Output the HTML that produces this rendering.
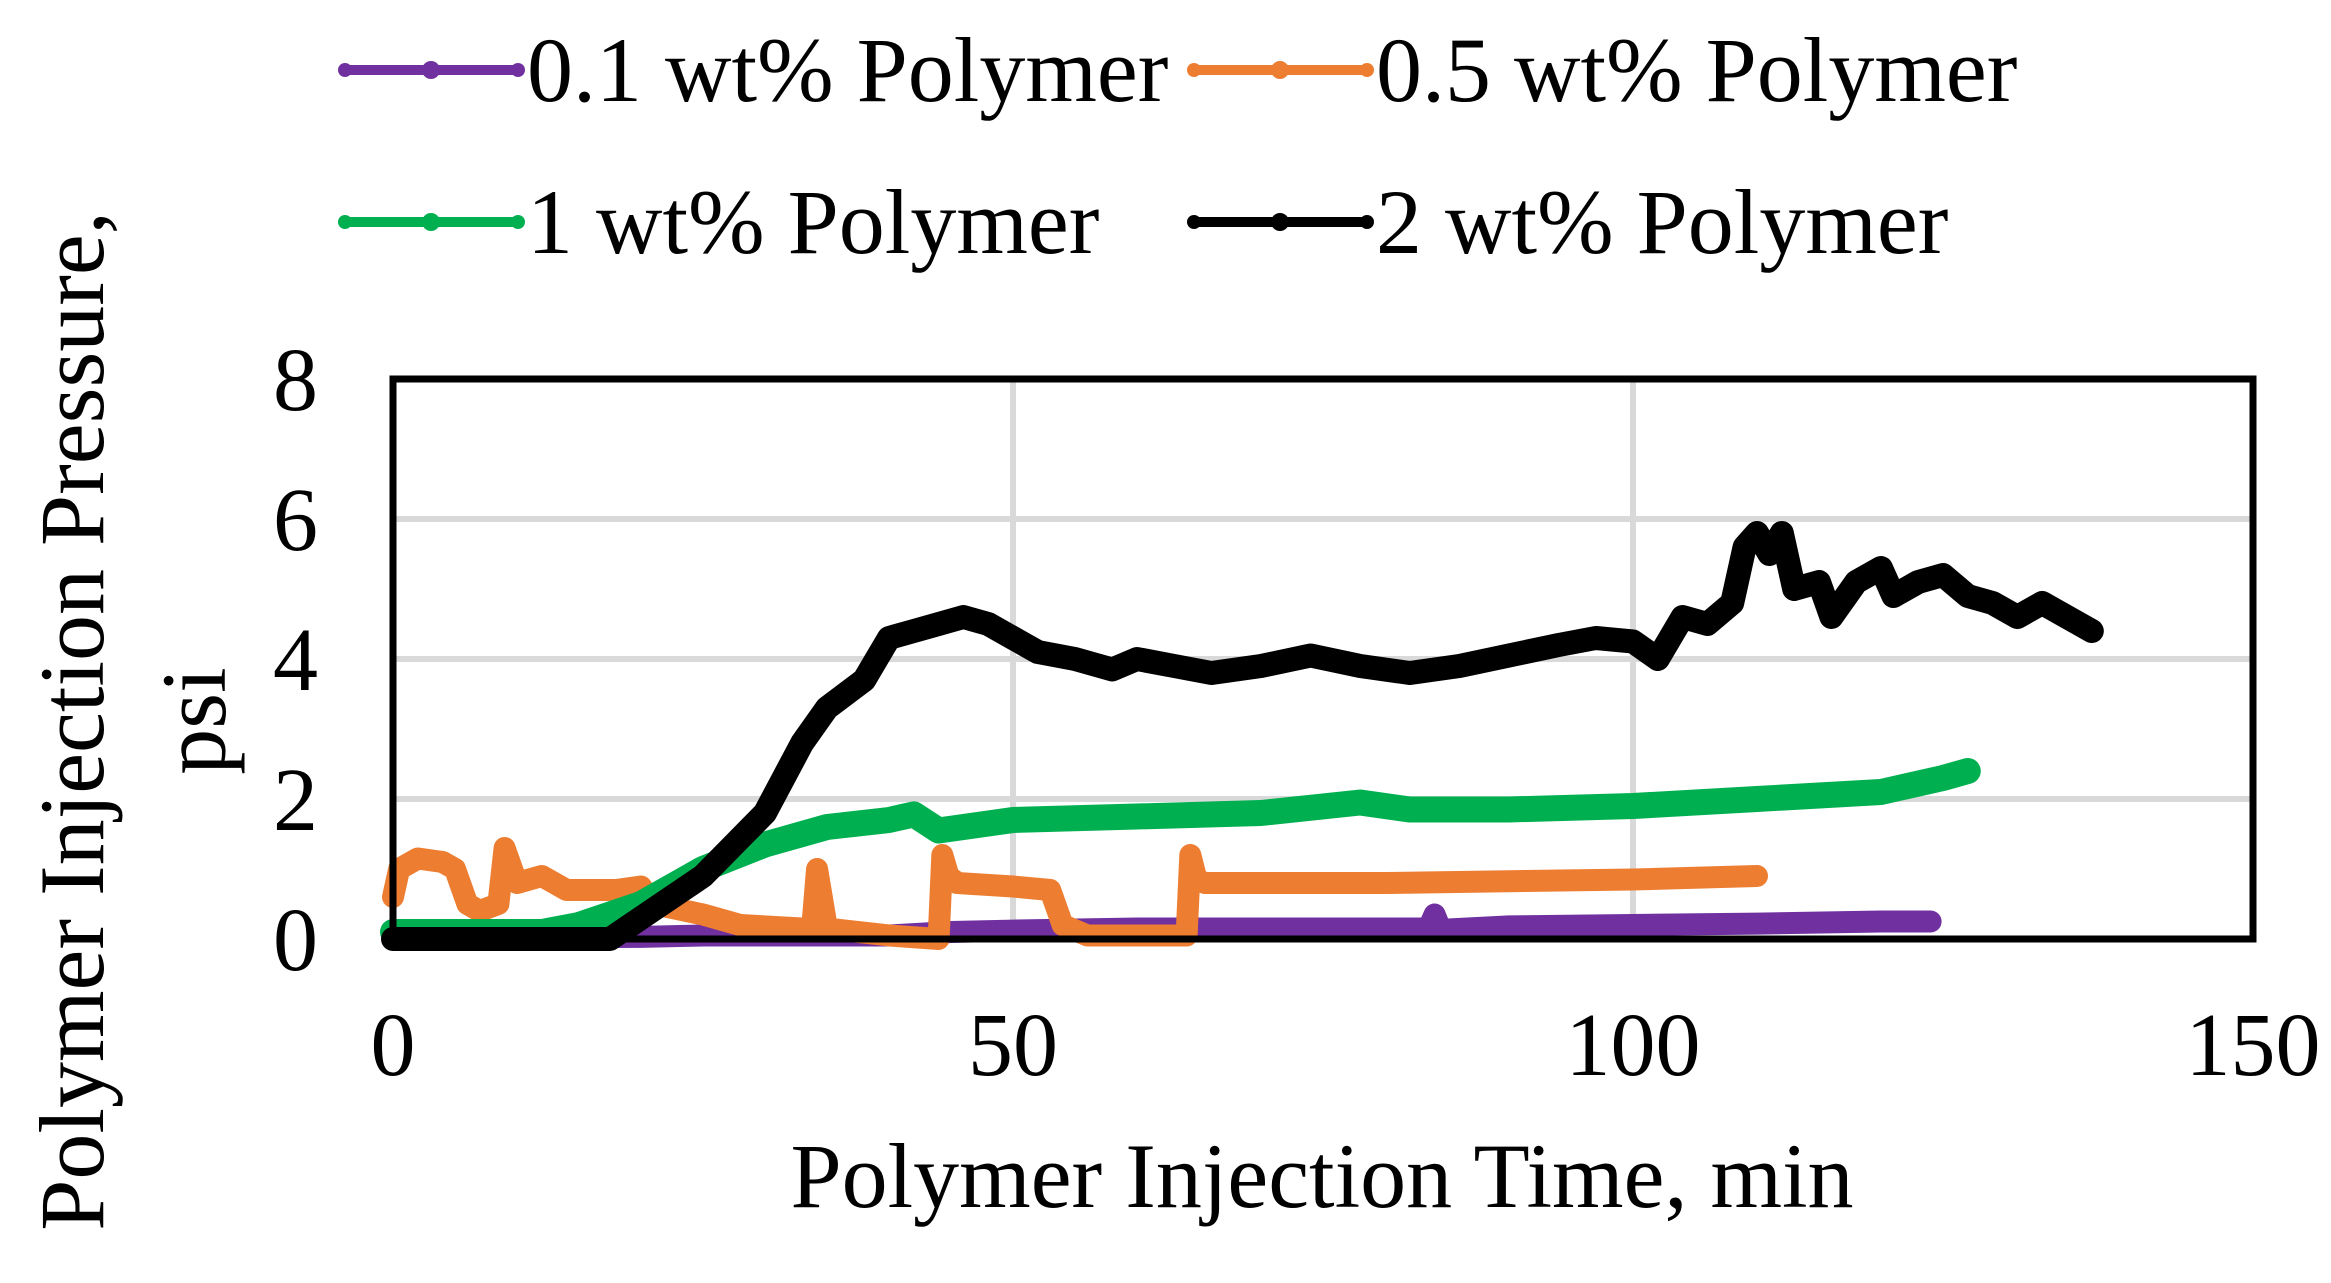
<!DOCTYPE html>
<html><head><meta charset="utf-8"><style>
html,body{margin:0;padding:0;background:#fff}
svg text{font-family:"Liberation Serif",serif;fill:#000}
</style></head><body>
<svg id="chart" width="2331" height="1278" viewBox="0 0 2331 1278" xmlns="http://www.w3.org/2000/svg">
<g id="grid"></g>
<g id="series"></g>
<rect x="393" y="379" width="1860" height="560" fill="none" stroke="#000" stroke-width="7"/>
<g id="yticks"></g>
<g id="xticks"></g>
<text x="1322" y="1207" font-size="92" text-anchor="middle">Polymer Injection Time, min</text>
<g transform="translate(135,721) rotate(-90)">
<text x="0" y="-32" font-size="92" text-anchor="middle">Polymer Injection Pressure,</text>
<text x="0" y="90" font-size="92" text-anchor="middle">psi</text>
</g>
<g id="legend"></g>
</svg>
<script>
const xTicks=[0,50,100,150];
const yTicks=[0,2,4,6,8];
const seriesNames=["0.1 wt% Polymer","0.5 wt% Polymer","1 wt% Polymer","2 wt% Polymer"];
const seriesColors=["#7030a0","#ed7d31","#00b050","#000000"];
const p01X=[0,10,20,25,30,40,45,50,60,70,80,83.5,84,84.5,90,100,110,120,124];
const p01Y=[0.02,0.02,0.03,0.05,0.05,0.05,0.1,0.12,0.15,0.15,0.15,0.15,0.35,0.13,0.18,0.2,0.22,0.25,0.25];
const p05X=[0,0.5,2,4,5,6,7,8.5,9,10,12,14,18,20,21,25,28,33,33.8,34.2,35,40,44,44.3,44.8,45.5,50,53,54,56,64,64.3,64.8,65.5,80,100,110];
const p05Y=[0.6,1.0,1.15,1.1,1.0,0.5,0.4,0.5,1.3,0.8,0.9,0.7,0.7,0.75,0.5,0.35,0.2,0.15,0.15,1.0,0.15,0.05,0.0,1.2,0.9,0.8,0.75,0.7,0.2,0.05,0.05,1.2,0.85,0.8,0.8,0.85,0.9];
const p1X=[0,12,15,20,25,30,35,40,42,44,50,60,70,78,82,90,100,110,120,125,127];
const p1Y=[0.1,0.1,0.2,0.5,1.0,1.35,1.6,1.7,1.78,1.55,1.7,1.75,1.8,1.95,1.85,1.85,1.9,2.0,2.1,2.3,2.4];
const p2X=[0,17.5,20,25,30,33,35,38,40,42,46,48,50,52,55,58,60,63,66,70,74,78,82,86,90,94,97,100,102,104,106,108,109,110,111,112,113,115,116,118,120,121,123,125,127,129,131,133,135,137];
const p2Y=[0,0,0.3,0.9,1.8,2.8,3.3,3.7,4.3,4.4,4.6,4.5,4.3,4.1,4.0,3.85,4.0,3.9,3.8,3.9,4.05,3.9,3.8,3.9,4.05,4.2,4.3,4.25,4.0,4.6,4.5,4.8,5.6,5.8,5.5,5.8,5.0,5.1,4.6,5.1,5.3,4.9,5.1,5.2,4.9,4.8,4.6,4.8,4.6,4.4];
const NS="http://www.w3.org/2000/svg";
const X0=393,X1=2253,Y0=939,Y1=379;
function sx(v){return X0+(v-0)/(150-0)*(X1-X0);}
function sy(v){return Y0-(v-0)/(8-0)*(Y0-Y1);}
function mk(tag,attrs,parent){const e=document.createElementNS(NS,tag);for(const k in attrs)e.setAttribute(k,attrs[k]);parent.appendChild(e);return e;}
const grid=document.getElementById('grid');
yTicks.forEach(t=>{if(t===0||t===8)return;
 const l=mk('line',{x1:X0,x2:X1,y1:sy(t),y2:sy(t),stroke:'#d9d9d9','stroke-width':6},grid);
 
 });
xTicks.forEach(t=>{if(t===0||t===150)return;
 const l=mk('line',{x1:sx(t),x2:sx(t),y1:Y1,y2:Y0,stroke:'#d9d9d9','stroke-width':6},grid);
 
 });
const yt=document.getElementById('yticks');
yTicks.forEach(t=>{const e=mk('text',{x:318,y:sy(t)+31,'font-size':90,'text-anchor':'end'},yt);e.textContent=t;
 
 });
const xt=document.getElementById('xticks');
xTicks.forEach(t=>{const e=mk('text',{x:sx(t),y:1075,'font-size':90,'text-anchor':'middle'},xt);e.textContent=t;
 
 });
const sg=document.getElementById('series');
const all=[[p01X,p01Y],[p05X,p05Y],[p1X,p1Y],[p2X,p2Y]];
const widths=[22,22,26,24];
const snames=['series-0-1-wt','series-0-5-wt','series-1-wt','series-2-wt'];
all.forEach((s,i)=>{const pts=s[0].map((x,j)=>sx(x)+','+sy(s[1][j])).join(' ');
 const pl=mk('polyline',{points:pts,fill:'none',stroke:seriesColors[i],'stroke-width':widths[i],'stroke-linejoin':'round','stroke-linecap':'round'},sg);
 
 });
const lg=document.getElementById('legend');
const lpos=[[345,70],[1194,70],[345,222],[1194,222]];
seriesNames.forEach((n,i)=>{const [x,y]=lpos[i];
 const g=mk('g',{},lg);
 
 
 mk('line',{x1:x,x2:x+173,y1:y,y2:y,stroke:seriesColors[i],'stroke-width':10},g);
 mk('circle',{cx:x+86,cy:y,r:9,fill:seriesColors[i]},g);
 mk('circle',{cx:x,cy:y,r:7,fill:seriesColors[i]},g);
 mk('circle',{cx:x+173,cy:y,r:7,fill:seriesColors[i]},g);
 const t=mk('text',{x:x+182,y:y+31,'font-size':92},g);t.textContent=n;});
</script>
</body></html>
